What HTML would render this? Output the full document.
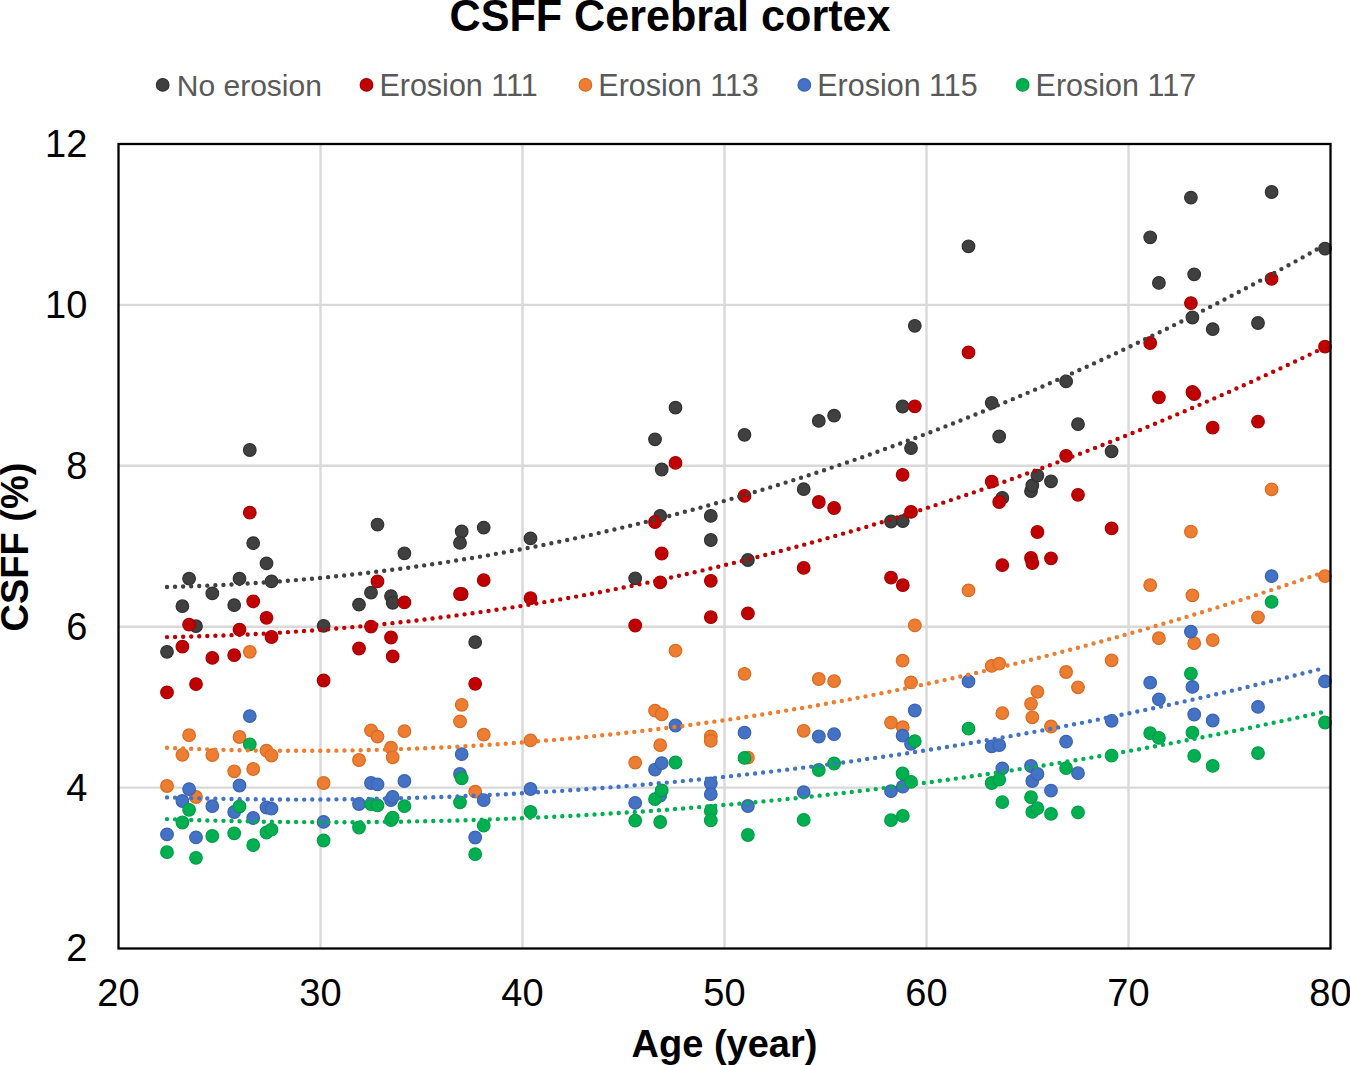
<!DOCTYPE html>
<html><head><meta charset="utf-8"><style>
html,body{margin:0;padding:0;background:#fff;}
body{width:1350px;height:1065px;overflow:hidden;}
svg{display:block;}
text{font-family:"Liberation Sans",sans-serif;}
</style></head><body>
<svg width="1350" height="1065" viewBox="0 0 1350 1065">
<rect x="0" y="0" width="1350" height="1065" fill="#fff"/>
<path d="M320.5 144.0V948.5M522.5 144.0V948.5M724.5 144.0V948.5M926.5 144.0V948.5M1128.5 144.0V948.5M118.5 787.6H1330.5M118.5 626.7H1330.5M118.5 465.8H1330.5M118.5 304.9H1330.5" stroke="#d9d9d9" stroke-width="2.4" fill="none"/>
<g fill="#404040" stroke="#303030" stroke-width="1.2"><circle cx="167.0" cy="651.8" r="6.30"/><circle cx="182.4" cy="606.2" r="6.30"/><circle cx="189.1" cy="578.7" r="6.30"/><circle cx="196.0" cy="626.2" r="6.30"/><circle cx="212.3" cy="593.4" r="6.30"/><circle cx="234.2" cy="605.1" r="6.30"/><circle cx="239.5" cy="578.7" r="6.30"/><circle cx="249.8" cy="450.0" r="6.30"/><circle cx="253.2" cy="543.1" r="6.30"/><circle cx="266.5" cy="563.4" r="6.30"/><circle cx="271.5" cy="581.4" r="6.30"/><circle cx="323.6" cy="625.8" r="6.30"/><circle cx="359.0" cy="604.6" r="6.30"/><circle cx="371.0" cy="592.7" r="6.30"/><circle cx="377.5" cy="524.6" r="6.30"/><circle cx="391.0" cy="596.1" r="6.30"/><circle cx="392.7" cy="602.8" r="6.30"/><circle cx="404.4" cy="553.3" r="6.30"/><circle cx="461.7" cy="531.5" r="6.30"/><circle cx="460.0" cy="542.9" r="6.30"/><circle cx="475.2" cy="642.1" r="6.30"/><circle cx="483.7" cy="527.6" r="6.30"/><circle cx="530.5" cy="538.4" r="6.30"/><circle cx="635.2" cy="578.3" r="6.30"/><circle cx="655.0" cy="439.3" r="6.30"/><circle cx="660.2" cy="515.9" r="6.30"/><circle cx="661.7" cy="469.5" r="6.30"/><circle cx="675.5" cy="407.7" r="6.30"/><circle cx="710.8" cy="515.9" r="6.30"/><circle cx="710.8" cy="540.0" r="6.30"/><circle cx="744.5" cy="434.8" r="6.30"/><circle cx="747.9" cy="560.0" r="6.30"/><circle cx="803.7" cy="489.1" r="6.30"/><circle cx="818.8" cy="420.9" r="6.30"/><circle cx="834.1" cy="415.7" r="6.30"/><circle cx="891.0" cy="521.5" r="6.30"/><circle cx="902.6" cy="406.5" r="6.30"/><circle cx="902.8" cy="521.1" r="6.30"/><circle cx="911.0" cy="448.1" r="6.30"/><circle cx="914.8" cy="325.8" r="6.30"/><circle cx="968.5" cy="246.3" r="6.30"/><circle cx="991.7" cy="402.8" r="6.30"/><circle cx="999.2" cy="436.5" r="6.30"/><circle cx="1002.3" cy="497.9" r="6.30"/><circle cx="1031.0" cy="491.2" r="6.30"/><circle cx="1032.3" cy="485.5" r="6.30"/><circle cx="1037.4" cy="475.6" r="6.30"/><circle cx="1051.0" cy="481.3" r="6.30"/><circle cx="1066.1" cy="381.4" r="6.30"/><circle cx="1078.0" cy="424.2" r="6.30"/><circle cx="1111.6" cy="451.3" r="6.30"/><circle cx="1150.2" cy="237.3" r="6.30"/><circle cx="1158.9" cy="282.9" r="6.30"/><circle cx="1190.9" cy="197.6" r="6.30"/><circle cx="1192.4" cy="317.5" r="6.30"/><circle cx="1194.2" cy="274.3" r="6.30"/><circle cx="1212.7" cy="329.1" r="6.30"/><circle cx="1258.0" cy="323.0" r="6.30"/><circle cx="1271.6" cy="192.0" r="6.30"/><circle cx="1325.0" cy="248.6" r="6.30"/></g>
<g fill="#c00000" stroke="#a80000" stroke-width="1.2"><circle cx="167.0" cy="692.4" r="6.30"/><circle cx="182.4" cy="646.7" r="6.30"/><circle cx="189.1" cy="624.7" r="6.30"/><circle cx="196.0" cy="684.1" r="6.30"/><circle cx="212.3" cy="657.9" r="6.30"/><circle cx="234.2" cy="655.2" r="6.30"/><circle cx="239.5" cy="629.6" r="6.30"/><circle cx="249.8" cy="512.7" r="6.30"/><circle cx="253.2" cy="601.3" r="6.30"/><circle cx="266.5" cy="617.8" r="6.30"/><circle cx="271.5" cy="637.0" r="6.30"/><circle cx="323.6" cy="680.5" r="6.30"/><circle cx="359.0" cy="648.5" r="6.30"/><circle cx="371.0" cy="626.6" r="6.30"/><circle cx="377.5" cy="581.4" r="6.30"/><circle cx="391.0" cy="637.5" r="6.30"/><circle cx="392.7" cy="656.3" r="6.30"/><circle cx="404.4" cy="602.4" r="6.30"/><circle cx="461.7" cy="594.0" r="6.30"/><circle cx="460.0" cy="594.0" r="6.30"/><circle cx="475.2" cy="683.8" r="6.30"/><circle cx="483.7" cy="580.1" r="6.30"/><circle cx="530.5" cy="598.2" r="6.30"/><circle cx="635.2" cy="625.5" r="6.30"/><circle cx="655.0" cy="522.0" r="6.30"/><circle cx="660.2" cy="582.4" r="6.30"/><circle cx="661.7" cy="553.5" r="6.30"/><circle cx="675.5" cy="462.9" r="6.30"/><circle cx="710.8" cy="580.8" r="6.30"/><circle cx="710.8" cy="617.2" r="6.30"/><circle cx="744.5" cy="495.9" r="6.30"/><circle cx="747.9" cy="613.4" r="6.30"/><circle cx="803.7" cy="567.9" r="6.30"/><circle cx="818.8" cy="502.0" r="6.30"/><circle cx="834.1" cy="508.0" r="6.30"/><circle cx="891.0" cy="577.7" r="6.30"/><circle cx="902.6" cy="474.8" r="6.30"/><circle cx="902.8" cy="585.2" r="6.30"/><circle cx="911.0" cy="511.9" r="6.30"/><circle cx="914.8" cy="406.3" r="6.30"/><circle cx="968.5" cy="352.4" r="6.30"/><circle cx="991.7" cy="481.7" r="6.30"/><circle cx="999.2" cy="502.0" r="6.30"/><circle cx="1002.3" cy="565.1" r="6.30"/><circle cx="1031.0" cy="558.0" r="6.30"/><circle cx="1032.3" cy="563.0" r="6.30"/><circle cx="1037.4" cy="532.0" r="6.30"/><circle cx="1051.0" cy="558.3" r="6.30"/><circle cx="1066.1" cy="455.8" r="6.30"/><circle cx="1078.0" cy="494.8" r="6.30"/><circle cx="1111.6" cy="528.4" r="6.30"/><circle cx="1150.2" cy="343.0" r="6.30"/><circle cx="1158.9" cy="397.3" r="6.30"/><circle cx="1190.9" cy="303.1" r="6.30"/><circle cx="1192.4" cy="392.0" r="6.30"/><circle cx="1194.2" cy="394.0" r="6.30"/><circle cx="1212.7" cy="427.7" r="6.30"/><circle cx="1258.0" cy="421.7" r="6.30"/><circle cx="1271.6" cy="278.8" r="6.30"/><circle cx="1325.0" cy="346.7" r="6.30"/></g>
<g fill="#ed7d31" stroke="#d86a22" stroke-width="1.2"><circle cx="167.0" cy="786.0" r="6.30"/><circle cx="182.4" cy="754.8" r="6.30"/><circle cx="189.1" cy="735.2" r="6.30"/><circle cx="196.0" cy="797.0" r="6.30"/><circle cx="212.3" cy="755.1" r="6.30"/><circle cx="234.2" cy="771.3" r="6.30"/><circle cx="239.5" cy="737.0" r="6.30"/><circle cx="249.8" cy="651.8" r="6.30"/><circle cx="253.2" cy="769.0" r="6.30"/><circle cx="266.5" cy="750.6" r="6.30"/><circle cx="271.5" cy="755.5" r="6.30"/><circle cx="323.6" cy="783.0" r="6.30"/><circle cx="359.0" cy="760.0" r="6.30"/><circle cx="371.0" cy="730.3" r="6.30"/><circle cx="377.5" cy="736.6" r="6.30"/><circle cx="391.0" cy="747.6" r="6.30"/><circle cx="392.7" cy="757.3" r="6.30"/><circle cx="404.4" cy="731.2" r="6.30"/><circle cx="461.7" cy="704.8" r="6.30"/><circle cx="460.0" cy="721.4" r="6.30"/><circle cx="475.2" cy="791.7" r="6.30"/><circle cx="483.7" cy="734.7" r="6.30"/><circle cx="530.5" cy="740.4" r="6.30"/><circle cx="635.2" cy="762.7" r="6.30"/><circle cx="655.0" cy="710.6" r="6.30"/><circle cx="660.2" cy="745.2" r="6.30"/><circle cx="661.7" cy="714.3" r="6.30"/><circle cx="675.5" cy="650.7" r="6.30"/><circle cx="710.8" cy="736.4" r="6.30"/><circle cx="710.8" cy="740.9" r="6.30"/><circle cx="744.5" cy="673.8" r="6.30"/><circle cx="747.9" cy="757.7" r="6.30"/><circle cx="803.7" cy="730.8" r="6.30"/><circle cx="818.8" cy="679.0" r="6.30"/><circle cx="834.1" cy="681.2" r="6.30"/><circle cx="891.0" cy="722.6" r="6.30"/><circle cx="902.6" cy="660.7" r="6.30"/><circle cx="902.8" cy="727.2" r="6.30"/><circle cx="911.0" cy="682.4" r="6.30"/><circle cx="914.8" cy="625.4" r="6.30"/><circle cx="968.5" cy="590.4" r="6.30"/><circle cx="991.7" cy="665.9" r="6.30"/><circle cx="999.2" cy="663.7" r="6.30"/><circle cx="1002.3" cy="713.2" r="6.30"/><circle cx="1031.0" cy="703.8" r="6.30"/><circle cx="1032.3" cy="717.3" r="6.30"/><circle cx="1037.4" cy="691.8" r="6.30"/><circle cx="1051.0" cy="726.5" r="6.30"/><circle cx="1066.1" cy="672.0" r="6.30"/><circle cx="1078.0" cy="687.3" r="6.30"/><circle cx="1111.6" cy="660.3" r="6.30"/><circle cx="1150.2" cy="585.2" r="6.30"/><circle cx="1158.9" cy="638.2" r="6.30"/><circle cx="1190.9" cy="531.7" r="6.30"/><circle cx="1192.4" cy="595.3" r="6.30"/><circle cx="1194.2" cy="643.2" r="6.30"/><circle cx="1212.7" cy="640.1" r="6.30"/><circle cx="1258.0" cy="617.3" r="6.30"/><circle cx="1271.6" cy="489.3" r="6.30"/><circle cx="1325.0" cy="576.1" r="6.30"/></g>
<g fill="#4472c4" stroke="#3a62b0" stroke-width="1.2"><circle cx="167.0" cy="834.4" r="6.30"/><circle cx="182.4" cy="801.0" r="6.30"/><circle cx="189.1" cy="789.1" r="6.30"/><circle cx="196.0" cy="837.4" r="6.30"/><circle cx="212.3" cy="806.2" r="6.30"/><circle cx="234.2" cy="812.0" r="6.30"/><circle cx="239.5" cy="785.5" r="6.30"/><circle cx="249.8" cy="716.1" r="6.30"/><circle cx="253.2" cy="818.0" r="6.30"/><circle cx="266.5" cy="807.5" r="6.30"/><circle cx="271.5" cy="808.7" r="6.30"/><circle cx="323.6" cy="821.9" r="6.30"/><circle cx="359.0" cy="804.0" r="6.30"/><circle cx="371.0" cy="783.0" r="6.30"/><circle cx="377.5" cy="784.4" r="6.30"/><circle cx="391.0" cy="800.0" r="6.30"/><circle cx="392.7" cy="796.9" r="6.30"/><circle cx="404.4" cy="781.0" r="6.30"/><circle cx="461.7" cy="754.1" r="6.30"/><circle cx="460.0" cy="774.0" r="6.30"/><circle cx="475.2" cy="837.5" r="6.30"/><circle cx="483.7" cy="800.2" r="6.30"/><circle cx="530.5" cy="789.0" r="6.30"/><circle cx="635.2" cy="802.9" r="6.30"/><circle cx="655.0" cy="769.7" r="6.30"/><circle cx="660.2" cy="795.7" r="6.30"/><circle cx="661.7" cy="763.1" r="6.30"/><circle cx="675.5" cy="725.5" r="6.30"/><circle cx="710.8" cy="783.5" r="6.30"/><circle cx="710.8" cy="794.2" r="6.30"/><circle cx="744.5" cy="732.7" r="6.30"/><circle cx="747.9" cy="806.0" r="6.30"/><circle cx="803.7" cy="792.1" r="6.30"/><circle cx="818.8" cy="736.5" r="6.30"/><circle cx="834.1" cy="734.2" r="6.30"/><circle cx="891.0" cy="791.2" r="6.30"/><circle cx="902.6" cy="735.7" r="6.30"/><circle cx="902.8" cy="786.7" r="6.30"/><circle cx="911.0" cy="743.8" r="6.30"/><circle cx="914.8" cy="710.5" r="6.30"/><circle cx="968.5" cy="681.3" r="6.30"/><circle cx="991.7" cy="746.3" r="6.30"/><circle cx="999.2" cy="745.2" r="6.30"/><circle cx="1002.3" cy="768.4" r="6.30"/><circle cx="1031.0" cy="766.0" r="6.30"/><circle cx="1032.3" cy="781.0" r="6.30"/><circle cx="1037.4" cy="774.0" r="6.30"/><circle cx="1051.0" cy="790.6" r="6.30"/><circle cx="1066.1" cy="741.6" r="6.30"/><circle cx="1078.0" cy="773.2" r="6.30"/><circle cx="1111.6" cy="720.8" r="6.30"/><circle cx="1150.2" cy="682.7" r="6.30"/><circle cx="1158.9" cy="699.4" r="6.30"/><circle cx="1190.9" cy="631.7" r="6.30"/><circle cx="1192.4" cy="686.9" r="6.30"/><circle cx="1194.2" cy="714.5" r="6.30"/><circle cx="1212.7" cy="720.5" r="6.30"/><circle cx="1258.0" cy="706.9" r="6.30"/><circle cx="1271.6" cy="576.1" r="6.30"/><circle cx="1325.0" cy="681.4" r="6.30"/></g>
<g fill="#00b050" stroke="#009e46" stroke-width="1.2"><circle cx="167.0" cy="852.2" r="6.30"/><circle cx="182.4" cy="822.5" r="6.30"/><circle cx="189.1" cy="809.8" r="6.30"/><circle cx="196.0" cy="857.8" r="6.30"/><circle cx="212.3" cy="836.0" r="6.30"/><circle cx="234.2" cy="833.3" r="6.30"/><circle cx="239.5" cy="806.5" r="6.30"/><circle cx="249.8" cy="744.3" r="6.30"/><circle cx="253.2" cy="845.1" r="6.30"/><circle cx="266.5" cy="832.5" r="6.30"/><circle cx="271.5" cy="829.7" r="6.30"/><circle cx="323.6" cy="840.5" r="6.30"/><circle cx="359.0" cy="827.5" r="6.30"/><circle cx="371.0" cy="804.2" r="6.30"/><circle cx="377.5" cy="805.3" r="6.30"/><circle cx="391.0" cy="820.0" r="6.30"/><circle cx="392.7" cy="817.6" r="6.30"/><circle cx="404.4" cy="806.2" r="6.30"/><circle cx="461.7" cy="778.3" r="6.30"/><circle cx="460.0" cy="802.3" r="6.30"/><circle cx="475.2" cy="854.2" r="6.30"/><circle cx="483.7" cy="825.6" r="6.30"/><circle cx="530.5" cy="811.8" r="6.30"/><circle cx="635.2" cy="820.7" r="6.30"/><circle cx="655.0" cy="799.2" r="6.30"/><circle cx="660.2" cy="822.0" r="6.30"/><circle cx="661.7" cy="790.4" r="6.30"/><circle cx="675.5" cy="762.5" r="6.30"/><circle cx="710.8" cy="810.9" r="6.30"/><circle cx="710.8" cy="820.4" r="6.30"/><circle cx="744.5" cy="757.9" r="6.30"/><circle cx="747.9" cy="835.0" r="6.30"/><circle cx="803.7" cy="819.9" r="6.30"/><circle cx="818.8" cy="770.0" r="6.30"/><circle cx="834.1" cy="763.5" r="6.30"/><circle cx="891.0" cy="820.2" r="6.30"/><circle cx="902.6" cy="773.5" r="6.30"/><circle cx="902.8" cy="815.9" r="6.30"/><circle cx="911.0" cy="781.8" r="6.30"/><circle cx="914.8" cy="741.1" r="6.30"/><circle cx="968.5" cy="728.7" r="6.30"/><circle cx="991.7" cy="783.0" r="6.30"/><circle cx="999.2" cy="779.7" r="6.30"/><circle cx="1002.3" cy="802.2" r="6.30"/><circle cx="1031.0" cy="797.2" r="6.30"/><circle cx="1032.3" cy="811.9" r="6.30"/><circle cx="1037.4" cy="808.2" r="6.30"/><circle cx="1051.0" cy="813.9" r="6.30"/><circle cx="1066.1" cy="768.1" r="6.30"/><circle cx="1078.0" cy="812.4" r="6.30"/><circle cx="1111.6" cy="755.7" r="6.30"/><circle cx="1150.2" cy="733.2" r="6.30"/><circle cx="1158.9" cy="737.9" r="6.30"/><circle cx="1190.9" cy="673.7" r="6.30"/><circle cx="1192.4" cy="732.6" r="6.30"/><circle cx="1194.2" cy="755.9" r="6.30"/><circle cx="1212.7" cy="765.9" r="6.30"/><circle cx="1258.0" cy="753.1" r="6.30"/><circle cx="1271.6" cy="601.9" r="6.30"/><circle cx="1325.0" cy="722.5" r="6.30"/></g>
<polyline points="167.0,587.0 176.7,586.7 186.5,586.4 196.2,586.1 205.9,585.7 215.7,585.3 225.4,584.8 235.1,584.3 244.8,583.7 254.6,583.1 264.3,582.5 274.0,581.8 283.8,581.1 293.5,580.3 303.2,579.4 313.0,578.6 322.7,577.7 332.4,576.7 342.2,575.7 351.9,574.6 361.6,573.5 371.4,572.4 381.1,571.2 390.8,570.0 400.5,568.7 410.3,567.4 420.0,566.0 429.7,564.6 439.5,563.2 449.2,561.7 458.9,560.1 468.7,558.6 478.4,556.9 488.1,555.3 497.9,553.5 507.6,551.8 517.3,550.0 527.1,548.1 536.8,546.2 546.5,544.3 556.2,542.3 566.0,540.3 575.7,538.2 585.4,536.1 595.2,533.9 604.9,531.7 614.6,529.4 624.4,527.1 634.1,524.8 643.8,522.4 653.6,520.0 663.3,517.5 673.0,515.0 682.7,512.4 692.5,509.8 702.2,507.2 711.9,504.5 721.7,501.7 731.4,498.9 741.1,496.1 750.9,493.2 760.6,490.3 770.3,487.4 780.1,484.3 789.8,481.3 799.5,478.2 809.3,475.1 819.0,471.9 828.7,468.6 838.4,465.4 848.2,462.0 857.9,458.7 867.6,455.3 877.4,451.8 887.1,448.3 896.8,444.8 906.6,441.2 916.3,437.6 926.0,433.9 935.8,430.2 945.5,426.4 955.2,422.6 964.9,418.7 974.7,414.8 984.4,410.9 994.1,406.9 1003.9,402.9 1013.6,398.8 1023.3,394.7 1033.1,390.5 1042.8,386.3 1052.5,382.0 1062.3,377.7 1072.0,373.4 1081.7,369.0 1091.5,364.6 1101.2,360.1 1110.9,355.6 1120.6,351.0 1130.4,346.4 1140.1,341.7 1149.8,337.0 1159.6,332.3 1169.3,327.5 1179.0,322.7 1188.8,317.8 1198.5,312.9 1208.2,307.9 1218.0,302.9 1227.7,297.8 1237.4,292.7 1247.2,287.6 1256.9,282.4 1266.6,277.2 1276.3,271.9 1286.1,266.6 1295.8,261.2 1305.5,255.8 1315.3,250.3 1325.0,244.8" fill="none" stroke="#404040" stroke-width="4.4" stroke-linecap="round" stroke-dasharray="0 8.07"/>
<polyline points="167.0,637.1 176.7,636.9 186.5,636.7 196.2,636.4 205.9,636.1 215.7,635.8 225.4,635.4 235.1,635.0 244.8,634.6 254.6,634.1 264.3,633.6 274.0,633.0 283.8,632.4 293.5,631.8 303.2,631.1 313.0,630.4 322.7,629.6 332.4,628.9 342.2,628.0 351.9,627.2 361.6,626.3 371.4,625.3 381.1,624.3 390.8,623.3 400.5,622.3 410.3,621.2 420.0,620.0 429.7,618.8 439.5,617.6 449.2,616.4 458.9,615.1 468.7,613.8 478.4,612.4 488.1,611.0 497.9,609.6 507.6,608.1 517.3,606.6 527.1,605.0 536.8,603.4 546.5,601.8 556.2,600.1 566.0,598.4 575.7,596.7 585.4,594.9 595.2,593.1 604.9,591.2 614.6,589.3 624.4,587.4 634.1,585.4 643.8,583.4 653.6,581.3 663.3,579.2 673.0,577.1 682.7,574.9 692.5,572.7 702.2,570.5 711.9,568.2 721.7,565.9 731.4,563.5 741.1,561.1 750.9,558.7 760.6,556.2 770.3,553.7 780.1,551.1 789.8,548.5 799.5,545.9 809.3,543.3 819.0,540.6 828.7,537.8 838.4,535.0 848.2,532.2 857.9,529.4 867.6,526.5 877.4,523.5 887.1,520.6 896.8,517.5 906.6,514.5 916.3,511.4 926.0,508.3 935.8,505.1 945.5,501.9 955.2,498.7 964.9,495.4 974.7,492.1 984.4,488.7 994.1,485.3 1003.9,481.9 1013.6,478.4 1023.3,474.9 1033.1,471.4 1042.8,467.8 1052.5,464.2 1062.3,460.5 1072.0,456.8 1081.7,453.1 1091.5,449.3 1101.2,445.5 1110.9,441.7 1120.6,437.8 1130.4,433.8 1140.1,429.9 1149.8,425.9 1159.6,421.8 1169.3,417.7 1179.0,413.6 1188.8,409.5 1198.5,405.3 1208.2,401.0 1218.0,396.8 1227.7,392.5 1237.4,388.1 1247.2,383.7 1256.9,379.3 1266.6,374.8 1276.3,370.3 1286.1,365.8 1295.8,361.2 1305.5,356.6 1315.3,351.9 1325.0,347.2" fill="none" stroke="#c00000" stroke-width="4.4" stroke-linecap="round" stroke-dasharray="0 8.07"/>
<polyline points="167.0,747.8 176.7,748.2 186.5,748.6 196.2,749.0 205.9,749.3 215.7,749.6 225.4,749.9 235.1,750.1 244.8,750.3 254.6,750.5 264.3,750.6 274.0,750.7 283.8,750.8 293.5,750.8 303.2,750.8 313.0,750.8 322.7,750.8 332.4,750.7 342.2,750.6 351.9,750.4 361.6,750.2 371.4,750.0 381.1,749.7 390.8,749.5 400.5,749.1 410.3,748.8 420.0,748.4 429.7,748.0 439.5,747.5 449.2,747.1 458.9,746.6 468.7,746.0 478.4,745.4 488.1,744.8 497.9,744.2 507.6,743.5 517.3,742.8 527.1,742.1 536.8,741.3 546.5,740.5 556.2,739.7 566.0,738.8 575.7,737.9 585.4,737.0 595.2,736.0 604.9,735.0 614.6,734.0 624.4,732.9 634.1,731.9 643.8,730.7 653.6,729.6 663.3,728.4 673.0,727.2 682.7,725.9 692.5,724.6 702.2,723.3 711.9,722.0 721.7,720.6 731.4,719.2 741.1,717.7 750.9,716.2 760.6,714.7 770.3,713.2 780.1,711.6 789.8,710.0 799.5,708.4 809.3,706.7 819.0,705.0 828.7,703.2 838.4,701.5 848.2,699.7 857.9,697.8 867.6,696.0 877.4,694.1 887.1,692.1 896.8,690.2 906.6,688.2 916.3,686.1 926.0,684.1 935.8,682.0 945.5,679.9 955.2,677.7 964.9,675.5 974.7,673.3 984.4,671.0 994.1,668.8 1003.9,666.4 1013.6,664.1 1023.3,661.7 1033.1,659.3 1042.8,656.8 1052.5,654.4 1062.3,651.8 1072.0,649.3 1081.7,646.7 1091.5,644.1 1101.2,641.5 1110.9,638.8 1120.6,636.1 1130.4,633.3 1140.1,630.6 1149.8,627.8 1159.6,624.9 1169.3,622.1 1179.0,619.2 1188.8,616.2 1198.5,613.3 1208.2,610.3 1218.0,607.2 1227.7,604.2 1237.4,601.1 1247.2,598.0 1256.9,594.8 1266.6,591.6 1276.3,588.4 1286.1,585.1 1295.8,581.8 1305.5,578.5 1315.3,575.2 1325.0,571.8" fill="none" stroke="#ed7d31" stroke-width="4.4" stroke-linecap="round" stroke-dasharray="0 8.07"/>
<polyline points="167.0,797.4 176.7,797.7 186.5,798.0 196.2,798.3 205.9,798.5 215.7,798.7 225.4,798.9 235.1,799.1 244.8,799.2 254.6,799.3 264.3,799.4 274.0,799.5 283.8,799.5 293.5,799.6 303.2,799.6 313.0,799.5 322.7,799.5 332.4,799.4 342.2,799.3 351.9,799.2 361.6,799.1 371.4,798.9 381.1,798.7 390.8,798.5 400.5,798.3 410.3,798.0 420.0,797.7 429.7,797.4 439.5,797.1 449.2,796.7 458.9,796.3 468.7,795.9 478.4,795.5 488.1,795.0 497.9,794.6 507.6,794.1 517.3,793.6 527.1,793.0 536.8,792.4 546.5,791.8 556.2,791.2 566.0,790.6 575.7,789.9 585.4,789.2 595.2,788.5 604.9,787.8 614.6,787.0 624.4,786.3 634.1,785.4 643.8,784.6 653.6,783.8 663.3,782.9 673.0,782.0 682.7,781.1 692.5,780.1 702.2,779.1 711.9,778.2 721.7,777.1 731.4,776.1 741.1,775.0 750.9,773.9 760.6,772.8 770.3,771.7 780.1,770.5 789.8,769.3 799.5,768.1 809.3,766.9 819.0,765.7 828.7,764.4 838.4,763.1 848.2,761.8 857.9,760.4 867.6,759.0 877.4,757.6 887.1,756.2 896.8,754.8 906.6,753.3 916.3,751.8 926.0,750.3 935.8,748.8 945.5,747.2 955.2,745.6 964.9,744.0 974.7,742.4 984.4,740.7 994.1,739.0 1003.9,737.3 1013.6,735.6 1023.3,733.9 1033.1,732.1 1042.8,730.3 1052.5,728.5 1062.3,726.6 1072.0,724.7 1081.7,722.9 1091.5,720.9 1101.2,719.0 1110.9,717.0 1120.6,715.0 1130.4,713.0 1140.1,711.0 1149.8,708.9 1159.6,706.9 1169.3,704.8 1179.0,702.6 1188.8,700.5 1198.5,698.3 1208.2,696.1 1218.0,693.9 1227.7,691.6 1237.4,689.4 1247.2,687.1 1256.9,684.7 1266.6,682.4 1276.3,680.0 1286.1,677.7 1295.8,675.2 1305.5,672.8 1315.3,670.3 1325.0,667.9" fill="none" stroke="#4472c4" stroke-width="4.4" stroke-linecap="round" stroke-dasharray="0 8.07"/>
<polyline points="167.0,819.1 176.7,819.4 186.5,819.8 196.2,820.1 205.9,820.4 215.7,820.6 225.4,820.9 235.1,821.1 244.8,821.3 254.6,821.5 264.3,821.7 274.0,821.8 283.8,821.9 293.5,822.0 303.2,822.1 313.0,822.1 322.7,822.2 332.4,822.2 342.2,822.2 351.9,822.2 361.6,822.1 371.4,822.0 381.1,821.9 390.8,821.8 400.5,821.7 410.3,821.5 420.0,821.3 429.7,821.1 439.5,820.9 449.2,820.7 458.9,820.4 468.7,820.1 478.4,819.8 488.1,819.5 497.9,819.1 507.6,818.8 517.3,818.4 527.1,818.0 536.8,817.5 546.5,817.1 556.2,816.6 566.0,816.1 575.7,815.6 585.4,815.0 595.2,814.5 604.9,813.9 614.6,813.3 624.4,812.7 634.1,812.0 643.8,811.4 653.6,810.7 663.3,810.0 673.0,809.2 682.7,808.5 692.5,807.7 702.2,806.9 711.9,806.1 721.7,805.2 731.4,804.4 741.1,803.5 750.9,802.6 760.6,801.7 770.3,800.7 780.1,799.8 789.8,798.8 799.5,797.8 809.3,796.7 819.0,795.7 828.7,794.6 838.4,793.5 848.2,792.4 857.9,791.2 867.6,790.1 877.4,788.9 887.1,787.7 896.8,786.5 906.6,785.2 916.3,784.0 926.0,782.7 935.8,781.4 945.5,780.0 955.2,778.7 964.9,777.3 974.7,775.9 984.4,774.5 994.1,773.1 1003.9,771.6 1013.6,770.1 1023.3,768.6 1033.1,767.1 1042.8,765.6 1052.5,764.0 1062.3,762.4 1072.0,760.8 1081.7,759.2 1091.5,757.6 1101.2,755.9 1110.9,754.2 1120.6,752.5 1130.4,750.7 1140.1,749.0 1149.8,747.2 1159.6,745.4 1169.3,743.6 1179.0,741.8 1188.8,739.9 1198.5,738.0 1208.2,736.1 1218.0,734.2 1227.7,732.2 1237.4,730.3 1247.2,728.3 1256.9,726.3 1266.6,724.2 1276.3,722.2 1286.1,720.1 1295.8,718.0 1305.5,715.9 1315.3,713.7 1325.0,711.6" fill="none" stroke="#00b050" stroke-width="4.4" stroke-linecap="round" stroke-dasharray="0 8.07"/>
<rect x="118.5" y="144.0" width="1212.0" height="804.5" fill="none" stroke="#000" stroke-width="2.3"/>
<text x="87.3" y="961.4" font-family="Liberation Sans, sans-serif" font-size="38" text-anchor="end" fill="#000">2</text>
<text x="87.3" y="800.5" font-family="Liberation Sans, sans-serif" font-size="38" text-anchor="end" fill="#000">4</text>
<text x="87.3" y="639.6" font-family="Liberation Sans, sans-serif" font-size="38" text-anchor="end" fill="#000">6</text>
<text x="87.3" y="478.7" font-family="Liberation Sans, sans-serif" font-size="38" text-anchor="end" fill="#000">8</text>
<text x="87.3" y="317.8" font-family="Liberation Sans, sans-serif" font-size="38" text-anchor="end" fill="#000">10</text>
<text x="87.3" y="156.9" font-family="Liberation Sans, sans-serif" font-size="38" text-anchor="end" fill="#000">12</text>
<text x="118.5" y="1006.2" font-family="Liberation Sans, sans-serif" font-size="38" text-anchor="middle" fill="#000">20</text>
<text x="320.5" y="1006.2" font-family="Liberation Sans, sans-serif" font-size="38" text-anchor="middle" fill="#000">30</text>
<text x="522.5" y="1006.2" font-family="Liberation Sans, sans-serif" font-size="38" text-anchor="middle" fill="#000">40</text>
<text x="724.5" y="1006.2" font-family="Liberation Sans, sans-serif" font-size="38" text-anchor="middle" fill="#000">50</text>
<text x="926.5" y="1006.2" font-family="Liberation Sans, sans-serif" font-size="38" text-anchor="middle" fill="#000">60</text>
<text x="1128.5" y="1006.2" font-family="Liberation Sans, sans-serif" font-size="38" text-anchor="middle" fill="#000">70</text>
<text x="1330.5" y="1006.2" font-family="Liberation Sans, sans-serif" font-size="38" text-anchor="middle" fill="#000">80</text>
<text x="724.5" y="1057.2" font-family="Liberation Sans, sans-serif" font-size="38" font-weight="bold" text-anchor="middle" fill="#000">Age (year)</text>
<text transform="translate(27.8,547) rotate(-90)" x="0" y="0" font-family="Liberation Sans, sans-serif" font-size="38" font-weight="bold" text-anchor="middle" fill="#000">CSFF (%)</text>
<text transform="translate(670,31.3) scale(0.963,1)" x="0" y="0" font-family="Liberation Sans, sans-serif" font-size="44.8" font-weight="bold" text-anchor="middle" fill="#000">CSFF Cerebral cortex</text>
<circle cx="162.7" cy="84.9" r="6.30" fill="#404040" stroke="#303030" stroke-width="1.2"/>
<text x="176.8" y="95.7" font-family="Liberation Sans, sans-serif" font-size="30.0" fill="#595959">No erosion</text>
<circle cx="366.5" cy="84.9" r="6.30" fill="#c00000" stroke="#a80000" stroke-width="1.2"/>
<text x="379.4" y="95.7" font-family="Liberation Sans, sans-serif" font-size="30.5" fill="#595959">Erosion 111</text>
<circle cx="585.4" cy="84.9" r="6.30" fill="#ed7d31" stroke="#d86a22" stroke-width="1.2"/>
<text x="598.3" y="95.7" font-family="Liberation Sans, sans-serif" font-size="30.5" fill="#595959">Erosion 113</text>
<circle cx="804.3" cy="84.9" r="6.30" fill="#4472c4" stroke="#3a62b0" stroke-width="1.2"/>
<text x="817.2" y="95.7" font-family="Liberation Sans, sans-serif" font-size="30.5" fill="#595959">Erosion 115</text>
<circle cx="1022.7" cy="84.9" r="6.30" fill="#00b050" stroke="#009e46" stroke-width="1.2"/>
<text x="1035.6" y="95.7" font-family="Liberation Sans, sans-serif" font-size="30.5" fill="#595959">Erosion 117</text>
</svg>
</body></html>
